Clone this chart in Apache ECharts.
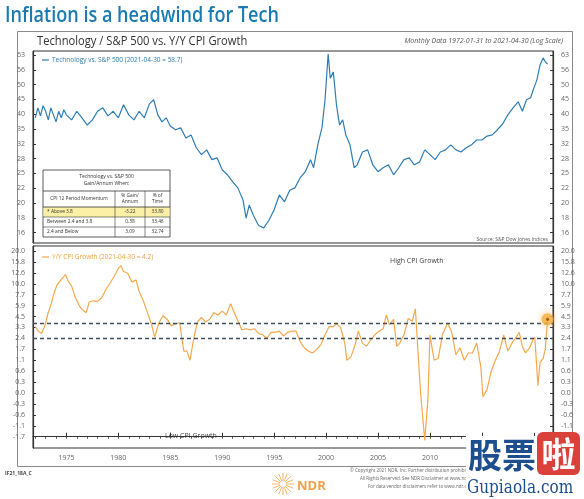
<!DOCTYPE html>
<html><head><meta charset="utf-8">
<script src="https://cdn.jsdelivr.net/npm/echarts@6/dist/echarts.min.js"></script>
<style>html,body{margin:0;padding:0;background:#fff}#c{width:584px;height:499px}</style>
</head><body><div id="c"></div>
<script>
// ---------------- DATA ----------------
const techYears = [1972.0,1972.25,1972.5,1972.75,1973.0,1973.25,1973.5,1973.75,1974.0,1974.25,1974.5,1974.75,1975.0,1975.5,1976.0,1976.5,1977.0,1977.5,1978.0,1978.5,1979.0,1979.5,1980.0,1980.5,1981.0,1981.5,1982.0,1982.5,1983.0,1983.4,1983.8,1984.2,1984.6,1985.0,1985.5,1986.0,1986.5,1987.0,1987.5,1988.0,1988.5,1989.0,1989.5,1990.0,1990.5,1991.0,1991.5,1992.0,1992.3,1992.6,1993.0,1993.5,1994.0,1994.5,1995.0,1995.5,1996.0,1996.5,1997.0,1997.5,1998.0,1998.5,1998.8,1999.2,1999.6,1999.9,2000.2,2000.4,2000.7,2001.0,2001.3,2001.6,2001.9,2002.3,2002.7,2003.0,2003.5,2004.0,2004.5,2005.0,2005.5,2006.0,2006.5,2007.0,2007.5,2008.0,2008.5,2009.0,2009.5,2010.0,2010.5,2011.0,2011.5,2012.0,2012.5,2013.0,2013.5,2014.0,2014.5,2015.0,2015.5,2016.0,2016.5,2017.0,2017.5,2018.0,2018.5,2018.9,2019.3,2019.7,2020.0,2020.3,2020.6,2020.9,2021.1,2021.33];
const techValues = [38.8,41.9,39.4,42.6,40.8,38.2,41.9,39.7,37.6,40.8,38.8,41.3,39.7,38.2,40.8,38.8,36.7,38.2,40.8,41.9,39.4,40.8,38.8,42.9,39.7,38.2,40.8,38.8,43.3,44.6,39.7,37.6,38.8,36.4,35.4,35.9,33.2,34.0,30.8,29.2,30.3,28.1,28.5,26.0,25.0,23.7,22.6,20.6,17.9,19.8,18.3,16.9,16.6,17.6,19.1,21.4,20.3,22.2,22.6,24.4,25.6,28.1,26.4,31.5,35.9,44.6,63.5,52.7,55.2,42.9,36.7,38.2,34.0,31.5,26.4,27.0,29.8,30.3,27.0,25.6,26.4,27.0,25.0,26.4,28.1,28.5,27.0,27.6,30.3,29.2,28.1,29.8,30.3,31.5,30.3,29.8,30.8,31.5,32.7,32.7,33.7,34.0,35.4,37.0,39.7,41.9,43.9,40.8,44.6,45.3,48.8,52.0,58.3,61.6,59.9,58.7];

const cpiYears = [1972.0,1972.3,1972.6,1972.9,1973.2,1973.5,1973.8,1974.1,1974.5,1974.9,1975.2,1975.5,1975.8,1976.2,1976.5,1976.9,1977.2,1977.6,1978.0,1978.4,1978.8,1979.2,1979.6,1980.0,1980.25,1980.5,1980.9,1981.3,1981.7,1982.0,1982.4,1982.8,1983.2,1983.5,1983.9,1984.3,1984.7,1985.1,1985.5,1985.9,1986.3,1986.6,1986.9,1987.2,1987.6,1988.0,1988.4,1988.8,1989.2,1989.6,1990.0,1990.4,1990.8,1991.2,1991.6,1991.9,1992.3,1992.7,1993.1,1993.5,1993.9,1994.3,1994.7,1995.1,1995.5,1995.9,1996.3,1996.7,1997.1,1997.5,1997.9,1998.3,1998.7,1999.1,1999.5,1999.9,2000.3,2000.7,2001.0,2001.4,2001.8,2002.0,2002.4,2002.8,2003.1,2003.5,2003.9,2004.3,2004.7,2005.1,2005.5,2005.8,2006.1,2006.5,2006.8,2007.1,2007.5,2007.9,2008.3,2008.6,2008.9,2009.1,2009.5,2009.8,2010.0,2010.4,2010.8,2011.2,2011.7,2012.1,2012.5,2012.9,2013.3,2013.7,2014.1,2014.5,2014.9,2015.1,2015.5,2015.9,2016.3,2016.7,2017.1,2017.5,2017.9,2018.3,2018.6,2018.9,2019.2,2019.6,2019.9,2020.1,2020.4,2020.6,2020.9,2021.1,2021.2,2021.33];
const cpiValues = [3.4,3.0,2.8,3.4,4.8,6.0,8.0,9.8,11.0,12.2,10.5,9.5,7.5,6.0,5.4,5.0,6.5,6.7,6.6,7.2,8.8,10.2,11.8,13.9,14.7,13.0,12.5,10.4,10.9,8.4,6.7,5.0,3.6,2.5,3.8,4.6,4.2,3.5,3.7,3.8,1.6,1.6,1.1,2.2,3.9,4.4,3.9,4.2,5.0,4.7,5.2,4.7,6.2,4.9,3.8,3.1,3.2,3.1,3.2,2.8,2.7,2.4,2.9,2.9,3.0,2.6,2.9,3.0,3.0,2.2,1.8,1.6,1.5,1.7,2.0,2.7,3.4,3.4,3.7,3.3,2.1,1.1,1.3,2.0,3.0,2.1,1.9,2.3,2.7,3.0,3.2,4.7,3.6,4.2,1.9,2.1,2.7,4.3,4.0,5.5,1.1,0.0,-1.9,-0.2,2.7,1.1,1.2,2.7,3.8,2.9,1.4,1.8,1.1,1.5,1.5,2.1,0.8,-0.1,0.1,0.6,1.1,1.6,2.7,1.6,2.1,2.5,2.9,1.9,1.5,1.8,2.3,2.5,0.2,1.0,1.2,1.7,2.6,4.2];

const techTickLabels = ['16','18','20','22','25','28','32','35','40','45','50','56','63'];
const cpiTickLabels = ['-1.7','-1.1','-0.6','-0.3','0.0','0.3','0.6','1.1','1.7','2.4','3.3','4.5','5.9','7.7','10.0','12.6','15.8','20.0'];
const cpiTickValues = [-1.7,-1.1,-0.6,-0.3,0.0,0.3,0.6,1.1,1.7,2.4,3.3,4.5,5.9,7.7,10.0,12.6,15.8,20.0];
const xLabelYears = [1975,1980,1985,1990,1995,2000,2005,2010,2015,2020];
const cpiBands = [3.8, 2.4];
const lastTech = 58.7, lastCpi = 4.2, lastDate = 2021.33;

const tableRows = [
  ['* Above 3.8', '-3.22', '33.80'],
  ['Between 2.4 and 3.8', '0.38', '33.46'],
  ['2.4 and Below', '3.09', '32.74']
];

// ---------------- SCALES ----------------
const TOP_MIN = 16, TOP_MAX = 63, TOP_STEPS = 12;
function topPos(v){ return Math.log(v/TOP_MIN)/Math.log(TOP_MAX/TOP_MIN)*TOP_STEPS; }
function cpiPos(v){
  const t = cpiTickValues; let i;
  if (v <= t[0]) i = 0; else if (v >= t[t.length-1]) i = t.length-2;
  else { i = 0; while (v > t[i+1]) i++; }
  return i + (v - t[i])/(t[i+1]-t[i]);
}
const techData = techYears.map((y,i)=>[y, topPos(techValues[i])]);
const cpiData = cpiYears.map((y,i)=>[y, cpiPos(cpiValues[i])]);
const allYears = []; for (let y=1972; y<=2021; y++) allYears.push(y);
const idx13 = techTickLabels.map((_,i)=>i);
const idx18 = cpiTickLabels.map((_,i)=>i);

const X_MIN = 1971.78, X_MAX = 2021.85;
const FONT = 'Open Sans';
const labelStyle = {fontSize:7, color:'#666', fontFamily:FONT};

function yAx(gridIndex, pos, min, max, vals, labels){
  return {type:'value', gridIndex, position:pos, min, max,
    axisLine:{show:true, lineStyle:{color:'#333', width:1.2}},
    axisTick:{show:true, inside:true, length:3, customValues:vals, lineStyle:{color:'#333'}},
    axisLabel:Object.assign({customValues:vals, margin:8, formatter:v=>labels[Math.round(v)]}, labelStyle),
    splitLine:{show:false}};
}

const chart = echarts.init(document.getElementById('c'), null, {renderer:'canvas'});

const graphics = [];
// outer frame
graphics.push({type:'rect', shape:{x:17.5,y:31.5,width:555,height:435}, style:{fill:null, stroke:'#8a8a8a', lineWidth:1}, z:0});
// title
graphics.push({type:'text', x:5, y:16, style:{text:'Inflation is a headwind for Tech', font:'600 21px "Open Sans"', fill:'#1b7bb0', textVerticalAlign:'middle'}, scaleX:0.86});
graphics.push({type:'text', x:37, y:41, style:{text:'Technology / S&P 500 vs. Y/Y CPI Growth', font:'13px "Open Sans"', fill:'#333', textVerticalAlign:'middle'}, scaleX:0.86});
graphics.push({type:'text', x:563, y:41, style:{text:'Monthly Data 1972-01-31 to 2021-04-30 (Log Scale)', font:'italic 7px "Open Sans"', fill:'#555', textAlign:'right', textVerticalAlign:'middle'}});
// legends
graphics.push({type:'line', shape:{x1:42,y1:60,x2:49,y2:60}, style:{stroke:'#2f7db3', lineWidth:1.2}});
graphics.push({type:'text', x:52, y:60, style:{text:'Technology vs. S&P 500 (2021-04-30 = 58.7)', font:'6.5px "Open Sans"', fill:'#2f7db3', textVerticalAlign:'middle'}});
graphics.push({type:'line', shape:{x1:42,y1:257,x2:49,y2:257}, style:{stroke:'#f5a94c', lineWidth:1.2}});
graphics.push({type:'text', x:52, y:257, style:{text:'Y/Y CPI Growth (2021-04-30 = 4.2)', font:'6.5px "Open Sans"', fill:'#f0a040', textVerticalAlign:'middle'}});
// annotations
graphics.push({type:'text', x:548, y:240, style:{text:'Source: S&P Dow Jones Indices', font:'5px "Open Sans"', fill:'#555', textAlign:'right', textVerticalAlign:'middle'}});
graphics.push({type:'text', x:390, y:261, style:{text:'High CPI Growth', font:'7px "Open Sans"', fill:'#444', textVerticalAlign:'middle'}});
graphics.push({type:'text', x:165, y:436, style:{text:'Low CPI Growth', font:'7px "Open Sans"', fill:'#444', textVerticalAlign:'middle'}});
// table
const TX=43, TY=170, TW=127, TH=67, C1=115, C2=145;
graphics.push({type:'rect', shape:{x:TX,y:TY,width:TW,height:TH}, style:{fill:'#fff', stroke:'#333', lineWidth:0.8}, z:10});
graphics.push({type:'text', x:TX+TW/2, y:TY+10, style:{text:'Technology vs. S&P 500\nGain/Annum When:', font:'5px "Open Sans"', fill:'#333', textAlign:'center', textVerticalAlign:'middle', lineHeight:7}, z:11});
graphics.push({type:'line', shape:{x1:TX,y1:191,x2:TX+TW,y2:191}, style:{stroke:'#333', lineWidth:0.8}, z:11});
graphics.push({type:'rect', shape:{x:TX+0.5,y:207,width:TW-1,height:10}, style:{fill:'#fbf0a6'}, z:10});
graphics.push({type:'line', shape:{x1:TX,y1:207,x2:TX+TW,y2:207}, style:{stroke:'#333', lineWidth:0.8}, z:11});
graphics.push({type:'line', shape:{x1:TX,y1:217,x2:TX+TW,y2:217}, style:{stroke:'#333', lineWidth:0.6}, z:11});
graphics.push({type:'line', shape:{x1:TX,y1:227,x2:TX+TW,y2:227}, style:{stroke:'#333', lineWidth:0.6}, z:11});
graphics.push({type:'line', shape:{x1:C1,y1:191,x2:C1,y2:TY+TH}, style:{stroke:'#333', lineWidth:0.6}, z:11});
graphics.push({type:'line', shape:{x1:C2,y1:191,x2:C2,y2:TY+TH}, style:{stroke:'#333', lineWidth:0.6}, z:11});
graphics.push({type:'text', x:(TX+C1)/2, y:199, style:{text:'CPI 12 Period Momentum', font:'4.8px "Open Sans"', fill:'#333', textAlign:'center', textVerticalAlign:'middle'}, z:11});
graphics.push({type:'text', x:(C1+C2)/2, y:199, style:{text:'% Gain/\nAnnum', font:'4.8px "Open Sans"', fill:'#333', textAlign:'center', textVerticalAlign:'middle', lineHeight:6}, z:11});
graphics.push({type:'text', x:(C2+TX+TW)/2, y:199, style:{text:'% of\nTime', font:'4.8px "Open Sans"', fill:'#333', textAlign:'center', textVerticalAlign:'middle', lineHeight:6}, z:11});
tableRows.forEach((r,i)=>{
  const yy = 212 + i*10;
  graphics.push({type:'text', x:TX+4, y:yy, style:{text:r[0], font:'4.8px "Open Sans"', fill:'#333', textVerticalAlign:'middle'}, z:11});
  graphics.push({type:'text', x:(C1+C2)/2, y:yy, style:{text:r[1], font:'4.8px "Open Sans"', fill:'#333', textAlign:'center', textVerticalAlign:'middle'}, z:11});
  graphics.push({type:'text', x:(C2+TX+TW)/2, y:yy, style:{text:r[2], font:'4.8px "Open Sans"', fill:'#333', textAlign:'center', textVerticalAlign:'middle'}, z:11});
});
// footer
graphics.push({type:'text', x:5, y:474, style:{text:'IF21_18A_C', font:'bold 5px "Open Sans"', fill:'#444', textVerticalAlign:'middle'}});
const sun = [];
for (let k=0;k<16;k++){ const a=Math.PI*2*k/16; sun.push({type:'line', shape:{x1:283+Math.cos(a)*3,y1:484+Math.sin(a)*3,x2:283+Math.cos(a)*11,y2:484+Math.sin(a)*11}, style:{stroke:'#f3b66b', lineWidth:1}}); }
graphics.push({type:'group', children:sun});
graphics.push({type:'text', x:297, y:486, style:{text:'NDR', font:'bold 13px "Open Sans"', fill:'#f0a04b', textVerticalAlign:'middle'}});
graphics.push({type:'text', x:350, y:471, style:{text:'© Copyright 2021 NDR, Inc. Further distribution prohibited', font:'4.5px "Open Sans"', fill:'#666', textVerticalAlign:'middle'}});
graphics.push({type:'text', x:360, y:479, style:{text:'All Rights Reserved. See NDR Disclaimer at www.ndr.com', font:'4.5px "Open Sans"', fill:'#666', textVerticalAlign:'middle'}});
graphics.push({type:'text', x:368, y:487, style:{text:'For data vendor disclaimers refer to www.ndr.com', font:'4.5px "Open Sans"', fill:'#666', textVerticalAlign:'middle'}});
// watermark
graphics.push({type:'rect', shape:{x:466,y:436,width:118,height:63}, style:{fill:'#fff'}, z:50});
graphics.push({type:'text', x:468, y:455, style:{text:'股票', font:'bold 34px "Noto Sans CJK SC"', fill:'#1d4f8f', textVerticalAlign:'middle'}, z:51});
graphics.push({type:'rect', shape:{x:537,y:432,width:43,height:43,r:6}, style:{fill:'#d9423b'}, z:51});
graphics.push({type:'text', x:558.5, y:454, style:{text:'啦', font:'bold 34px "Noto Sans CJK SC"', fill:'#fff', textAlign:'center', textVerticalAlign:'middle'}, z:52});
graphics.push({type:'text', x:467, y:488, style:{text:'Gupiaola.com', font:'18px "DejaVu Serif"', fill:'#1d4f8f', textVerticalAlign:'middle'}, z:51, scaleX:0.85});

const option = {
  animation:false,
  backgroundColor:'#fff',
  grid:[
    {left:33, right:31, top:51, height:192, show:true, borderColor:'#333', borderWidth:1, containLabel:false},
    {left:33, right:31, top:246, height:202, show:true, borderColor:'#333', borderWidth:1, containLabel:false}
  ],
  xAxis:[
    {type:'value', gridIndex:0, min:X_MIN, max:X_MAX, show:false},
    {type:'value', gridIndex:1, min:X_MIN, max:X_MAX,
      axisLine:{show:true, lineStyle:{color:'#333', width:1.2}},
      axisTick:{show:true, length:2, customValues:allYears, lineStyle:{color:'#555'}},
      axisLabel:Object.assign({customValues:xLabelYears, margin:6, formatter:v=>String(Math.round(v))}, labelStyle),
      splitLine:{show:false}},
    {type:'value', gridIndex:1, min:X_MIN, max:X_MAX,
      axisLine:{show:false}, axisLabel:{show:false}, splitLine:{show:false},
      axisTick:{show:true, length:4, customValues:xLabelYears, lineStyle:{color:'#333'}}}
  ],
  yAxis:[
    yAx(0,'left',-0.7,12.27,idx13,techTickLabels),
    yAx(0,'right',-0.7,12.27,idx13,techTickLabels),
    yAx(1,'left',-1.03,17.46,idx18,cpiTickLabels),
    yAx(1,'right',-1.03,17.46,idx18,cpiTickLabels)
  ],
  series:[
    {type:'line', xAxisIndex:0, yAxisIndex:0, data:techData, showSymbol:false, lineStyle:{color:'#2f7db3', width:1.2}, z:3},
    {type:'line', xAxisIndex:1, yAxisIndex:2, data:cpiData, showSymbol:false, lineStyle:{color:'#f5a94c', width:1.2}, z:3,
      markLine:{silent:true, symbol:'none', label:{show:false}, lineStyle:{type:[4,3], color:'#3d4f5c', width:1.3},
        data:cpiBands.map(b=>({yAxis:cpiPos(b)}))}},
    {type:'scatter', xAxisIndex:1, yAxisIndex:2, data:[[lastDate, cpiPos(lastCpi)]], symbolSize:12,
      itemStyle:{color:'#f6b041', shadowBlur:6, shadowColor:'rgba(245,160,40,0.8)'}, z:5},
    {type:'scatter', xAxisIndex:1, yAxisIndex:2, data:[[lastDate, cpiPos(lastCpi)]], symbolSize:3,
      itemStyle:{color:'#7a4a00'}, z:6}
  ],
  graphic:graphics
};
chart.setOption(option);
</script></body></html>
